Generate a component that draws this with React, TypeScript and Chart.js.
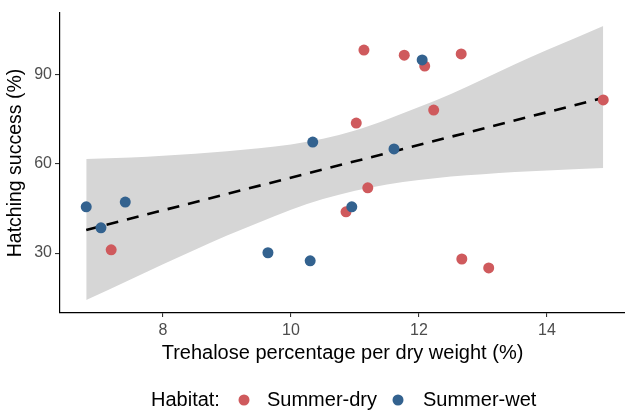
import { useEffect, useRef } from "react";
import { Chart, registerables } from "chart.js";

Chart.register(...registerables);

const FONT = "'Liberation Sans', Arial, sans-serif";

// Summer-dry habitat
const dryX = [7.19, 10.86, 11.02, 11.14, 11.2, 11.77, 12.09, 12.23, 12.66, 12.67, 13.09, 14.88];
const dryY = [31.1, 43.9, 73.8, 98.4, 52.0, 96.7, 93.0, 78.2, 97.1, 28.0, 25.0, 81.6];
// Summer-wet habitat
const wetX = [6.8, 7.03, 7.41, 9.64, 10.3, 10.34, 10.95, 11.61, 12.05];
const wetY = [45.6, 38.5, 47.2, 30.1, 27.4, 67.4, 45.6, 65.1, 95.1];
// linear fit
const fitX = [6.8, 14.88];
const fitY = [37.8, 82.3];
// confidence band
const bandX = [6.8, 7.5, 8.0, 8.5, 9.0, 9.5, 10.0, 10.5, 11.0, 11.5, 12.0, 12.5, 13.0, 13.5, 14.0, 14.5, 14.88];
const bandUpper = [61.7, 62.2, 62.8, 63.5, 64.3, 65.3, 66.6, 68.5, 71.3, 75.0, 79.2, 83.6, 88.6, 93.6, 98.4, 103.0, 106.5];
const bandLower = [14.2, 21.2, 26.2, 31.1, 35.9, 40.3, 44.6, 48.2, 51.0, 53.1, 54.6, 55.8, 56.6, 57.3, 57.8, 58.3, 58.7];

const xTicks = [8, 10, 12, 14];
const yTicks = [30, 60, 90];

const dryColor = "#CF5A5D";
const wetColor = "#33628F";
const legendTitle = "Habitat:";
const legendLabels = ["Summer-dry", "Summer-wet"];

const legendPlugin = {
  id: "habitatLegend",
  afterDraw(chart: any) {
    const ctx = chart.ctx;
    ctx.save();
    ctx.font = `20px ${FONT}`;
    ctx.fillStyle = "#000";
    ctx.textBaseline = "middle";
    ctx.textAlign = "left";
    const y = 400;
    ctx.fillText(legendTitle, 151, y);
    const items = [
      { x: 244, color: dryColor, label: legendLabels[0], tx: 267 },
      { x: 398, color: wetColor, label: legendLabels[1], tx: 423 },
    ];
    for (const it of items) {
      ctx.beginPath();
      ctx.fillStyle = it.color;
      ctx.arc(it.x, y, 5.5, 0, Math.PI * 2);
      ctx.fill();
      ctx.fillStyle = "#000";
      ctx.fillText(it.label, it.tx, y);
    }
    ctx.restore();
  },
};

export default function App() {
  const ref = useRef<HTMLCanvasElement | null>(null);
  useEffect(() => {
    if (!ref.current) return;
    const chart = new Chart(ref.current, {
      type: "scatter",
      data: {
        datasets: [
          {
            label: "Summer-wet",
            data: wetX.map((x, i) => ({ x, y: wetY[i] })),
            backgroundColor: wetColor,
            borderWidth: 0,
            pointRadius: 5.5,
            order: 0,
          } as any,
          {
            label: "Summer-dry",
            data: dryX.map((x, i) => ({ x, y: dryY[i] })),
            backgroundColor: dryColor,
            borderWidth: 0,
            pointRadius: 5.5,
            order: 1,
          } as any,
          {
            type: "line",
            label: "fit",
            data: fitX.map((x, i) => ({ x, y: fitY[i] })),
            borderColor: "#000",
            borderWidth: 2.6,
            borderDash: [12, 9],
            pointRadius: 0,
            fill: false,
            order: 2,
          } as any,
          {
            type: "line",
            label: "lower",
            data: bandX.map((x, i) => ({ x, y: bandLower[i] })),
            borderWidth: 0,
            borderColor: "rgba(0,0,0,0)",
            pointRadius: 0,
            cubicInterpolationMode: "monotone",
            fill: false,
            order: 3,
          } as any,
          {
            type: "line",
            label: "upper",
            data: bandX.map((x, i) => ({ x, y: bandUpper[i] })),
            borderWidth: 0,
            borderColor: "rgba(0,0,0,0)",
            backgroundColor: "rgb(214,214,214)",
            pointRadius: 0,
            cubicInterpolationMode: "monotone",
            fill: "-1",
            order: 3,
          } as any,
        ],
      },
      options: {
        animation: false,
        responsive: false,
        devicePixelRatio: 1,
        layout: { autoPadding: false, padding: { top: 13, right: 0, bottom: 45, left: 4 } },
        plugins: {
          legend: { display: false },
          tooltip: { enabled: false },
        },
        scales: {
          x: {
            type: "linear",
            min: 6.39,
            max: 15.22,
            afterBuildTicks: (s: any) => {
              s.ticks = xTicks.map((v) => ({ value: v }));
            },
            afterFit: (s: any) => {
              s.height = 52;
              s.paddingLeft = 0;
              s.paddingRight = 0;
            },
            grid: {
              display: true,
              drawOnChartArea: false,
              drawTicks: true,
              tickLength: 4,
              color: "#333",
              lineWidth: 1.1,
            },
            border: { display: true, color: "#000", width: 1.2 },
            ticks: {
              color: "#4D4D4D",
              font: { size: 16, family: FONT },
              padding: 4,
              maxRotation: 0,
              autoSkip: false,
            },
            title: {
              display: true,
              text: "Trehalose percentage per dry weight (%)",
              color: "#000",
              font: { size: 20, family: FONT },
              padding: 0,
            },
          },
          y: {
            type: "linear",
            min: 9.8,
            max: 110.9,
            afterBuildTicks: (s: any) => {
              s.ticks = yTicks.map((v) => ({ value: v }));
            },
            afterFit: (s: any) => {
              s.width = 56;
              s.paddingTop = 0;
              s.paddingBottom = 0;
            },
            grid: {
              display: true,
              drawOnChartArea: false,
              drawTicks: true,
              tickLength: 5,
              color: "#333",
              lineWidth: 1.1,
            },
            border: { display: true, color: "#000", width: 1.2 },
            ticks: {
              color: "#4D4D4D",
              font: { size: 16, family: FONT },
              padding: 3,
              autoSkip: false,
            },
            title: {
              display: true,
              text: "Hatching success (%)",
              color: "#000",
              font: { size: 19.5, family: FONT },
              padding: 0,
            },
          },
        },
      },
      plugins: [legendPlugin],
    });
    return () => chart.destroy();
  }, []);
  return (
    <div style={{ position: "fixed", left: 0, top: 0, width: 625, height: 410, background: "#fff" }}>
      <canvas ref={ref} width={625} height={410} style={{ display: "block", width: 625, height: 410 }} />
    </div>
  );
}
